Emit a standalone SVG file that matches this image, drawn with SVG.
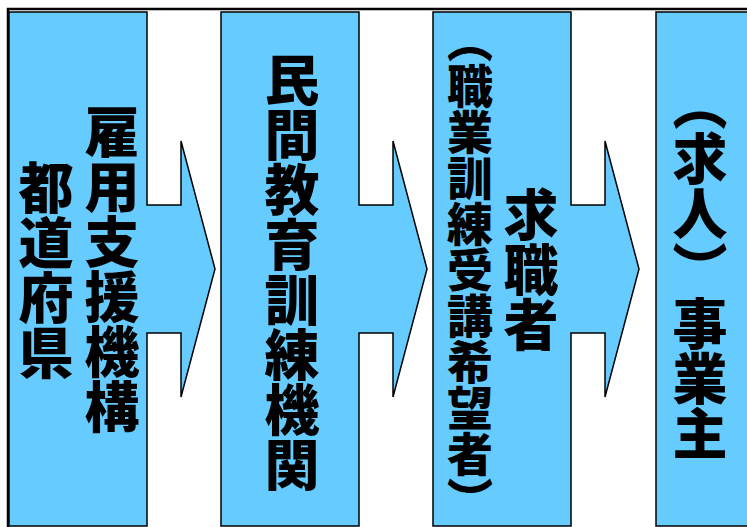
<svg xmlns="http://www.w3.org/2000/svg" width="747" height="527" viewBox="0 0 747 527">
<style>
.box{fill:#66CCFF;stroke:#000;stroke-width:1.5;stroke-linejoin:miter}
.frame{fill:none;stroke:#000;stroke-width:2.5}
.t{font-family:"Noto Sans CJK JP","Noto Sans CJK SC",sans-serif;font-weight:900;fill:#000;writing-mode:vertical-rl;text-anchor:start}
</style>
<rect x="0" y="0" width="747" height="527" fill="#fff"/>
<g id="frame"><path class="frame" d="M8,527 V9 H747"/></g>
<g id="connectors"></g>
<g id="node-prefecture">
<polygon class="box" points="9,12 147,12 147,205 181,205 181,141 215,269 181,397 181,333 147,333 147,526 9,526"/>
<text class="t" x="112" y="104" font-size="55">雇用支援機構</text>
<text class="t" x="46" y="160" font-size="55">都道府県</text>
</g>
<g id="node-training">
<polygon class="box" points="221,12 359,12 359,205 393,205 393,141 427,269 393,397 393,333 359,333 359,526 221,526"/>
<text class="t" x="292" y="52" font-size="55">民間教育訓練機関</text>
</g>
<g id="node-jobseeker">
<polygon class="box" points="433,12 571,12 571,205 605,205 605,141 639,269 605,397 605,333 571,333 571,526 433,526"/>
<text class="t" x="470" y="17" font-size="46">（職業訓練受講希望者）</text>
<text class="t" x="531" y="187" font-size="55">求職者</text>
</g>
<g id="node-employer">
<polygon class="box" points="656,12 760,12 760,526 656,526"/>
<text class="t" x="700" y="76" font-size="55">（求人）事業主</text>
</g>
</svg>
